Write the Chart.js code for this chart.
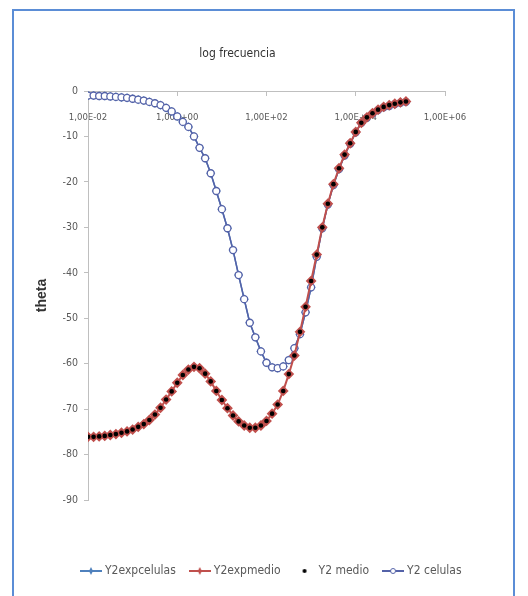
<!DOCTYPE html>
<html>
<head>
<meta charset="utf-8">
<script src="https://cdn.jsdelivr.net/npm/chart.js@4.4.1/dist/chart.umd.min.js"></script>
<style>
  html, body { margin: 0; padding: 0; background: #fff; }
  #wrap { position: absolute; left: 0; top: 0; width: 528px; height: 596px; }
  #frame { position: absolute; left: 12px; top: 9px; width: 499px; height: 600px; border: 2px solid #5b8dd6; pointer-events: none; }
</style>
</head>
<body>
<div id="frame"></div>
<div id="wrap"><canvas id="chart"></canvas></div>
<script>
const seriesNames = ['Y2expcelulas', 'Y2expmedio', 'Y2 medio', 'Y2 celulas'];

const frequencies = [0.01, 0.01334, 0.01778, 0.02371, 0.03162, 0.04217, 0.05623, 0.07499,
    0.1, 0.1334, 0.1778, 0.2371, 0.3162, 0.4217, 0.5623, 0.7499,
    1, 1.334, 1.778, 2.371, 3.162, 4.217, 5.623, 7.499,
    10, 13.34, 17.78, 23.71, 31.62, 42.17, 56.23, 74.99,
    100, 133.4, 177.8, 237.1, 316.2, 421.7, 562.3, 749.9,
    1000, 1334, 1778, 2371, 3162, 4217, 5623, 7499,
    10000, 13340, 17780, 23710, 31620, 42170, 56230, 74990,
    100000, 133400];

const thetaCelulas = [-1.0, -1.0, -1.1, -1.1, -1.2, -1.3, -1.4, -1.5,
    -1.7, -1.9, -2.1, -2.4, -2.7, -3.1, -3.7, -4.5,
    -5.6, -6.8, -7.9, -10.0, -12.5, -14.8, -18.1, -22.0,
    -26.0, -30.2, -35.0, -40.5, -45.8, -51.0, -54.2, -57.3,
    -59.8, -60.8, -61.0, -60.6, -59.2, -56.6, -53.5, -48.7,
    -43.2, -36.5, -30.2, -25.0, -20.7, -17.2, -14.2, -11.6,
    -9.1, -7.0, -5.9, -5.0, -4.2, -3.6, -3.3, -2.9,
    -2.6, -2.4];

const thetaMedio = [-76.1, -76.1, -76.0, -75.9, -75.7, -75.5, -75.2, -74.9,
    -74.5, -73.9, -73.3, -72.4, -71.2, -69.7, -67.9, -66.1,
    -64.2, -62.5, -61.3, -60.7, -61.0, -62.2, -63.9, -66.0,
    -68.0, -69.8, -71.4, -72.7, -73.6, -74.1, -74.1, -73.6,
    -72.6, -71.0, -69.0, -66.0, -62.3, -58.2, -53.0, -47.5,
    -41.8, -36.0, -30.0, -24.8, -20.5, -17.0, -14.0, -11.5,
    -9.0, -7.0, -5.8, -4.9, -4.1, -3.5, -3.1, -2.8,
    -2.5, -2.3];

const xTickValues = [0.01, 1, 100, 10000, 1000000];
const xTickLabels = ['1,00E-02', '1,00E+00', '1,00E+02', '1,00E+04', '1,00E+06'];
const yTickValues = [0, -10, -20, -30, -40, -50, -60, -70, -80, -90];

const narrow = "'DejaVu Sans Condensed', 'DejaVu Sans', sans-serif";
const textColor = '#595959';
const axisColor = '#bfbfbf';
const colors = ['#4f81bd', '#c0504d', '#000000', '#5462a8'];

const toPoints = (values) => frequencies.map((f, i) => ({ x: f, y: values[i] }));

function legendSymbol(color, marker) {
    const c = document.createElement('canvas');
    c.width = 22;
    c.height = 12;
    const ctx = c.getContext('2d');
    if (marker !== 'dot') {
        ctx.strokeStyle = color;
        ctx.lineWidth = 2;
        ctx.beginPath();
        ctx.moveTo(0, 6);
        ctx.lineTo(22, 6);
        ctx.stroke();
    }
    if (marker === 'diamond') {
        ctx.fillStyle = color;
        ctx.beginPath();
        ctx.moveTo(11, 2); ctx.lineTo(13, 6); ctx.lineTo(11, 10); ctx.lineTo(9, 6);
        ctx.closePath();
        ctx.fill();
    } else if (marker === 'dot') {
        ctx.fillStyle = color;
        ctx.beginPath();
        ctx.arc(11, 6, 2, 0, Math.PI * 2);
        ctx.fill();
    } else if (marker === 'ring') {
        ctx.fillStyle = '#fff';
        ctx.lineWidth = 1;
        ctx.beginPath();
        ctx.arc(11, 6, 2.5, 0, Math.PI * 2);
        ctx.fill();
        ctx.stroke();
    }
    return c;
}

const legendSymbols = [
    legendSymbol(colors[0], 'diamond'),
    legendSymbol(colors[1], 'diamond'),
    legendSymbol(colors[2], 'dot'),
    legendSymbol(colors[3], 'ring'),
];

// put the legend row where the original has it
const legendPlacer = {
    id: 'legendPlacer',
    afterLayout(chart) {
        const lg = chart.legend;
        lg.maxWidth = 520;
        lg.fit();
        lg.left = 67;
        lg.right = 528;
        lg.top = 549;
        lg.bottom = lg.top + lg.height;
    },
};

new Chart(document.getElementById('chart'), {
    type: 'scatter',
    data: {
        datasets: [
            {
                label: seriesNames[0],
                data: toPoints(thetaCelulas),
                showLine: true,
                borderColor: colors[0],
                borderWidth: 1.5,
                pointStyle: 'rectRot',
                pointRadius: 3.5,
                pointBackgroundColor: colors[0],
                pointBorderColor: colors[0],
                order: 4,
            },
            {
                label: seriesNames[1],
                data: toPoints(thetaMedio),
                showLine: true,
                borderColor: colors[1],
                borderWidth: 2,
                pointStyle: 'rectRot',
                pointRadius: 4,
                pointBackgroundColor: colors[1],
                pointBorderColor: colors[1],
                order: 2,
            },
            {
                label: seriesNames[2],
                data: toPoints(thetaMedio),
                showLine: false,
                pointStyle: 'circle',
                pointRadius: 2.3,
                pointBackgroundColor: colors[2],
                pointBorderColor: colors[2],
                pointBorderWidth: 0,
                order: 1,
            },
            {
                label: seriesNames[3],
                data: toPoints(thetaCelulas),
                showLine: true,
                borderColor: colors[3],
                borderWidth: 1.5,
                pointStyle: 'circle',
                pointRadius: 3.5,
                pointBackgroundColor: '#ffffff',
                pointBorderColor: colors[3],
                pointBorderWidth: 1.3,
                order: 3,
            },
        ],
    },
    options: {
        responsive: true,
        maintainAspectRatio: false,
        animation: false,
        events: [],
        layout: { padding: { left: 30, right: 83, top: 20, bottom: 58 } },
        plugins: {
            title: {
                display: true,
                text: 'log frecuencia',
                color: '#333333',
                font: { family: narrow, size: 12, weight: 'normal', lineHeight: 1.4 },
                padding: { top: 25, bottom: 29.2 },
            },
            legend: {
                position: 'bottom',
                align: 'start',
                labels: {
                    usePointStyle: true,
                    pointStyleWidth: 16,
                    padding: 16,
                    color: textColor,
                    font: { family: narrow, size: 12 },
                    generateLabels: (chart) => chart.data.datasets.map((ds, i) => ({
                        text: ds.label,
                        pointStyle: legendSymbols[i],
                        fillStyle: colors[i],
                        strokeStyle: colors[i],
                        lineWidth: 0,
                        fontColor: textColor,
                        hidden: false,
                        datasetIndex: i,
                    })),
                },
            },
            tooltip: { enabled: false },
        },
        scales: {
            x: {
                type: 'logarithmic',
                position: { y: 0 },
                min: 0.01,
                max: 1000000,
                afterBuildTicks: (scale) => {
                    scale.ticks = xTickValues.map((v) => ({ value: v }));
                },
                ticks: {
                    autoSkip: false,
                    maxRotation: 0,
                    padding: 17,
                    color: textColor,
                    font: { family: narrow, size: 9.5 },
                    callback: (value, index) => xTickLabels[index],
                },
                grid: { drawOnChartArea: false, tickLength: 4, color: axisColor },
                border: { color: axisColor },
            },
            y: {
                min: -90,
                max: 0,
                afterBuildTicks: (scale) => {
                    scale.ticks = yTickValues.map((v) => ({ value: v }));
                },
                afterFit: (scale) => {
                    scale.width = 58;
                },
                ticks: {
                    padding: 6,
                    color: textColor,
                    font: { family: narrow, size: 10.5 },
                },
                grid: { drawOnChartArea: false, tickLength: 4, color: axisColor },
                border: { color: axisColor },
                title: {
                    display: true,
                    text: 'theta',
                    color: '#333333',
                    font: { family: "'Liberation Sans', sans-serif", size: 14, weight: 'bold' },
                    padding: { top: 4, bottom: 4 },
                },
            },
        },
    },
    plugins: [legendPlacer],
});
</script>
</body>
</html>
